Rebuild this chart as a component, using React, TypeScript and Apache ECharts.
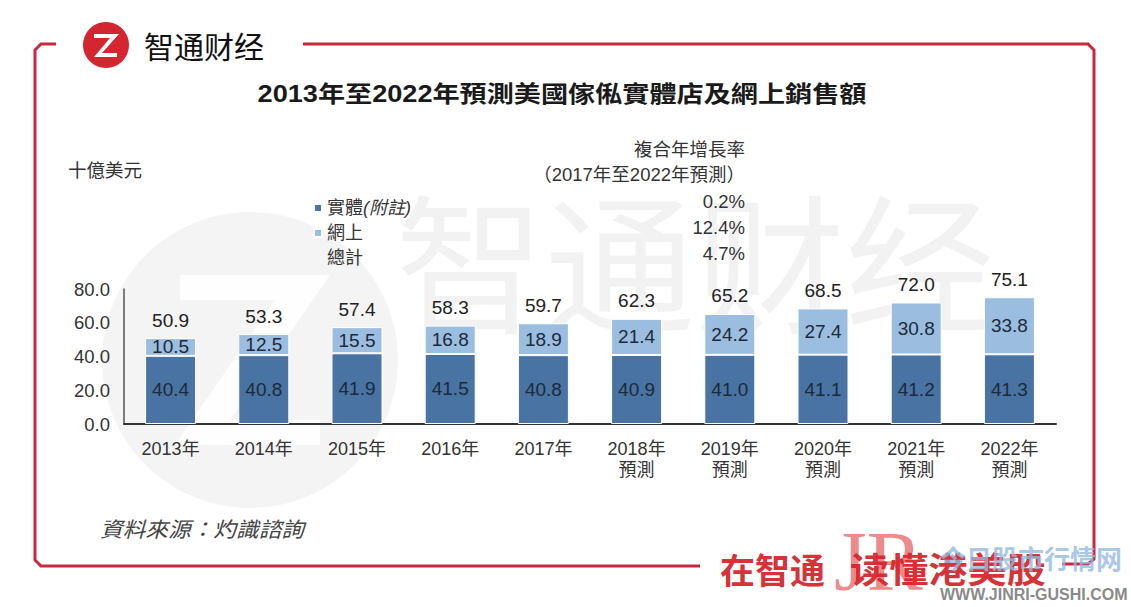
import React, { useEffect, useRef } from "react";
import * as echarts from "echarts";

const categories = [
  "2013年", "2014年", "2015年", "2016年", "2017年",
  "2018年\n預測", "2019年\n預測", "2020年\n預測", "2021年\n預測", "2022年\n預測",
];
const physical = [40.4, 40.8, 41.9, 41.5, 40.8, 40.9, 41.0, 41.1, 41.2, 41.3];
const online = [10.5, 12.5, 15.5, 16.8, 18.9, 21.4, 24.2, 27.4, 30.8, 33.8];
const totals = [50.9, 53.3, 57.4, 58.3, 59.7, 62.3, 65.2, 68.5, 72.0, 75.1];
const seriesNames = ["實體(附註)", "網上", "總計"];
const cagrHeader = ["複合年增長率", "（2017年至2022年預測）"];
const cagrValues = ["0.2%", "12.4%", "4.7%"];
const titleText = "2013年至2022年預測美國傢俬實體店及網上銷售額";
const unitText = "十億美元";
const sourceText = "資料來源：灼識諮詢";
const brandText = "智通财经";
const sloganA = "在智通";
const sloganB = "读懂港美股";

const FONT = "'Liberation Sans', 'Noto Sans CJK TC', sans-serif";
const RED = "#c9283e";
const DARK = "#4873a3";
const LIGHT = "#9bbde0";

const watermarkSvg =
  '<svg xmlns="http://www.w3.org/2000/svg" width="620" height="200">' +
  '<text x="0" y="160" font-family="Noto Sans CJK SC" font-size="150" fill="rgba(0,0,0,0.05)">' +
  brandText +
  "</text></svg>";
const watermarkUrl = "data:image/svg+xml;charset=utf-8," + encodeURIComponent(watermarkSvg);

export default function App() {
  const ref = useRef<HTMLDivElement>(null);
  useEffect(() => {
    document.body.style.margin = "0";
    const chart = echarts.init(ref.current!, undefined, { renderer: "svg" });
    const fmt = (p: any) => Number(p.value).toFixed(1);
    const option: any = {
      animation: false,
      backgroundColor: "#ffffff",
      textStyle: { fontFamily: FONT },
      grid: { left: 124, right: 75, top: 289, bottom: 183, containLabel: false },
      legend: {
        orient: "vertical",
        left: 308,
        top: 194,
        itemWidth: 8,
        itemHeight: 8,
        itemGap: 7,
        selectedMode: false,
        data: [
          { name: seriesNames[0], icon: "rect", itemStyle: { color: DARK } },
          { name: seriesNames[1], icon: "rect", itemStyle: { color: LIGHT } },
          { name: seriesNames[2], icon: "rect", itemStyle: { opacity: 0 } },
        ],
        formatter: (name: string) =>
          name === seriesNames[0] ? "{n|實體}{i|(附註)}" : "{n|" + name + "}",
        textStyle: {
          color: "#333",
          fontSize: 18,
          fontFamily: FONT,
          rich: {
            n: { fontSize: 18, color: "#333", lineHeight: 19, fontFamily: FONT },
            i: { fontSize: 18, color: "#333", lineHeight: 19, fontStyle: "italic", fontFamily: FONT },
          },
        },
      },
      xAxis: {
        type: "category",
        data: categories,
        axisLine: { show: true, lineStyle: { color: "#333", width: 2 } },
        axisTick: { show: false },
        axisLabel: { color: "#333", fontSize: 18, lineHeight: 21, margin: 14, fontFamily: FONT, interval: 0 },
      },
      yAxis: {
        type: "value",
        min: 0,
        max: 80,
        interval: 20,
        axisLine: { show: true, lineStyle: { color: "#555", width: 1.5 } },
        axisTick: { show: false },
        splitLine: { show: false },
        axisLabel: {
          color: "#333",
          fontSize: 18.5,
          margin: 14,
          fontFamily: FONT,
          formatter: (v: number) => v.toFixed(1),
        },
      },
      series: [
        {
          name: seriesNames[0],
          type: "bar",
          stack: "s",
          data: physical,
          barWidth: 51,
          itemStyle: { color: DARK, borderColor: "#ffffff", borderWidth: 1 },
          label: { show: true, position: "inside", color: "#1c2a3a", fontSize: 19, fontFamily: FONT, formatter: fmt },
        },
        {
          name: seriesNames[1],
          type: "bar",
          stack: "s",
          data: online,
          barWidth: 51,
          itemStyle: { color: LIGHT, borderColor: "#ffffff", borderWidth: 1 },
          label: { show: true, position: "inside", color: "#1c2a3a", fontSize: 19, fontFamily: FONT, formatter: fmt },
        },
        {
          name: seriesNames[2],
          type: "line",
          data: totals,
          symbol: "circle",
          symbolSize: 1,
          itemStyle: { color: "rgba(0,0,0,0)" },
          lineStyle: { opacity: 0 },
          label: { show: true, position: "top", distance: 8, color: "#222", fontSize: 19, fontFamily: FONT, formatter: fmt },
          z: 5,
        },
      ],
      graphic: [
        // watermark
        {
          type: "circle",
          z: -10,
          shape: { cx: 250, cy: 360, r: 148 },
          style: { fill: "rgba(0,0,0,0.045)" },
          silent: true,
        },
        {
          type: "polygon",
          z: -9,
          shape: { points: [[180, 275], [330, 275], [230, 420], [320, 420], [320, 445], [175, 445], [275, 300], [180, 300]] },
          style: { fill: "rgba(255,255,255,0.9)" },
          silent: true,
        },
        {
          type: "image",
          z: -10,
          silent: true,
          style: { image: watermarkUrl, x: 395, y: 162, width: 620, height: 200 },
        },
        // frame
        {
          type: "polyline",
          z: 100,
          shape: { points: [[56, 44], [41, 44], [35, 50], [35, 560], [41, 566], [700, 566]] },
          style: { stroke: RED, lineWidth: 3, fill: "none" },
        },
        {
          type: "polyline",
          z: 100,
          shape: { points: [[303, 44], [1088, 44], [1094, 50], [1094, 559], [1088, 564], [1062, 564]] },
          style: { stroke: RED, lineWidth: 3, fill: "none" },
        },
        // logo
        {
          type: "circle",
          z: 100,
          shape: { cx: 106, cy: 45, r: 23 },
          style: { fill: "#d42630" },
        },
        {
          type: "polygon",
          z: 101,
          shape: { points: [[94, 34], [119, 34], [102, 53], [117, 53], [117, 57], [94, 57], [110, 38], [94, 38]] },
          style: { fill: "#ffffff" },
        },
        {
          type: "text",
          z: 100,
          x: 144,
          y: 45,
          style: { text: brandText, fill: "#111", font: "30px 'Noto Sans CJK SC'", verticalAlign: "middle" },
        },
        // title
        {
          type: "text",
          z: 100,
          x: 562,
          y: 94,
          scaleX: 1.18,
          style: {
            text: titleText,
            fill: "#1a1a1a",
            font: "bold 23px " + FONT,
            align: "center",
            verticalAlign: "middle",
          },
        },
        // unit
        {
          type: "text",
          z: 100,
          x: 68,
          y: 170,
          style: { text: unitText, fill: "#333", font: "18.5px " + FONT, verticalAlign: "middle" },
        },
        // CAGR block
        ...cagrHeader.map((t, i) => ({
          type: "text",
          z: 100,
          x: 745,
          y: 149 + i * 25,
          style: { text: t, fill: "#333", font: "18.5px " + FONT, align: "right", verticalAlign: "middle" },
        })),
        ...cagrValues.map((t, i) => ({
          type: "text",
          z: 100,
          x: 745,
          y: 201 + i * 26,
          style: { text: t, fill: "#333", font: "18.5px " + FONT, align: "right", verticalAlign: "middle" },
        })),
        // source
        {
          type: "text",
          z: 100,
          x: 100,
          y: 530,
          scaleX: 1.08,
          style: { text: sourceText, fill: "#444", font: "italic 21px " + FONT, verticalAlign: "middle" },
        },
        // bottom right branding
        {
          type: "text",
          z: 100,
          x: 834,
          y: 561,
          style: { text: "JR", fill: "rgba(228,100,100,0.75)", font: "84px 'Liberation Serif'", verticalAlign: "middle" },
        },
        {
          type: "text",
          z: 101,
          x: 720,
          y: 568,
          style: { text: sloganA, fill: "rgba(214,37,44,0.95)", font: "bold 35px 'Noto Sans CJK SC'", verticalAlign: "middle" },
        },
        {
          type: "text",
          z: 101,
          x: 850,
          y: 568,
          scaleX: 1.12,
          style: { text: sloganB, fill: "rgba(214,37,44,0.95)", font: "bold 35px 'Noto Sans CJK SC'", verticalAlign: "middle" },
        },
        {
          type: "text",
          z: 102,
          x: 940,
          y: 557,
          style: { text: "今日股市行情网", fill: "rgba(150,185,225,0.8)", font: "bold 26px 'Noto Sans CJK SC'", verticalAlign: "middle" },
        },
        {
          type: "text",
          z: 102,
          x: 940,
          y: 594,
          style: { text: "WWW.JINRI-GUSHI.COM", fill: "#8a8a8a", font: "bold 16px 'Liberation Sans'", verticalAlign: "middle" },
        },
      ],
    };
    chart.setOption(option);
    return () => chart.dispose();
  }, []);
  return (
    <div
      ref={ref}
      style={{ position: "fixed", left: 0, top: 0, width: 1131, height: 607, background: "#fff" }}
    />
  );
}
